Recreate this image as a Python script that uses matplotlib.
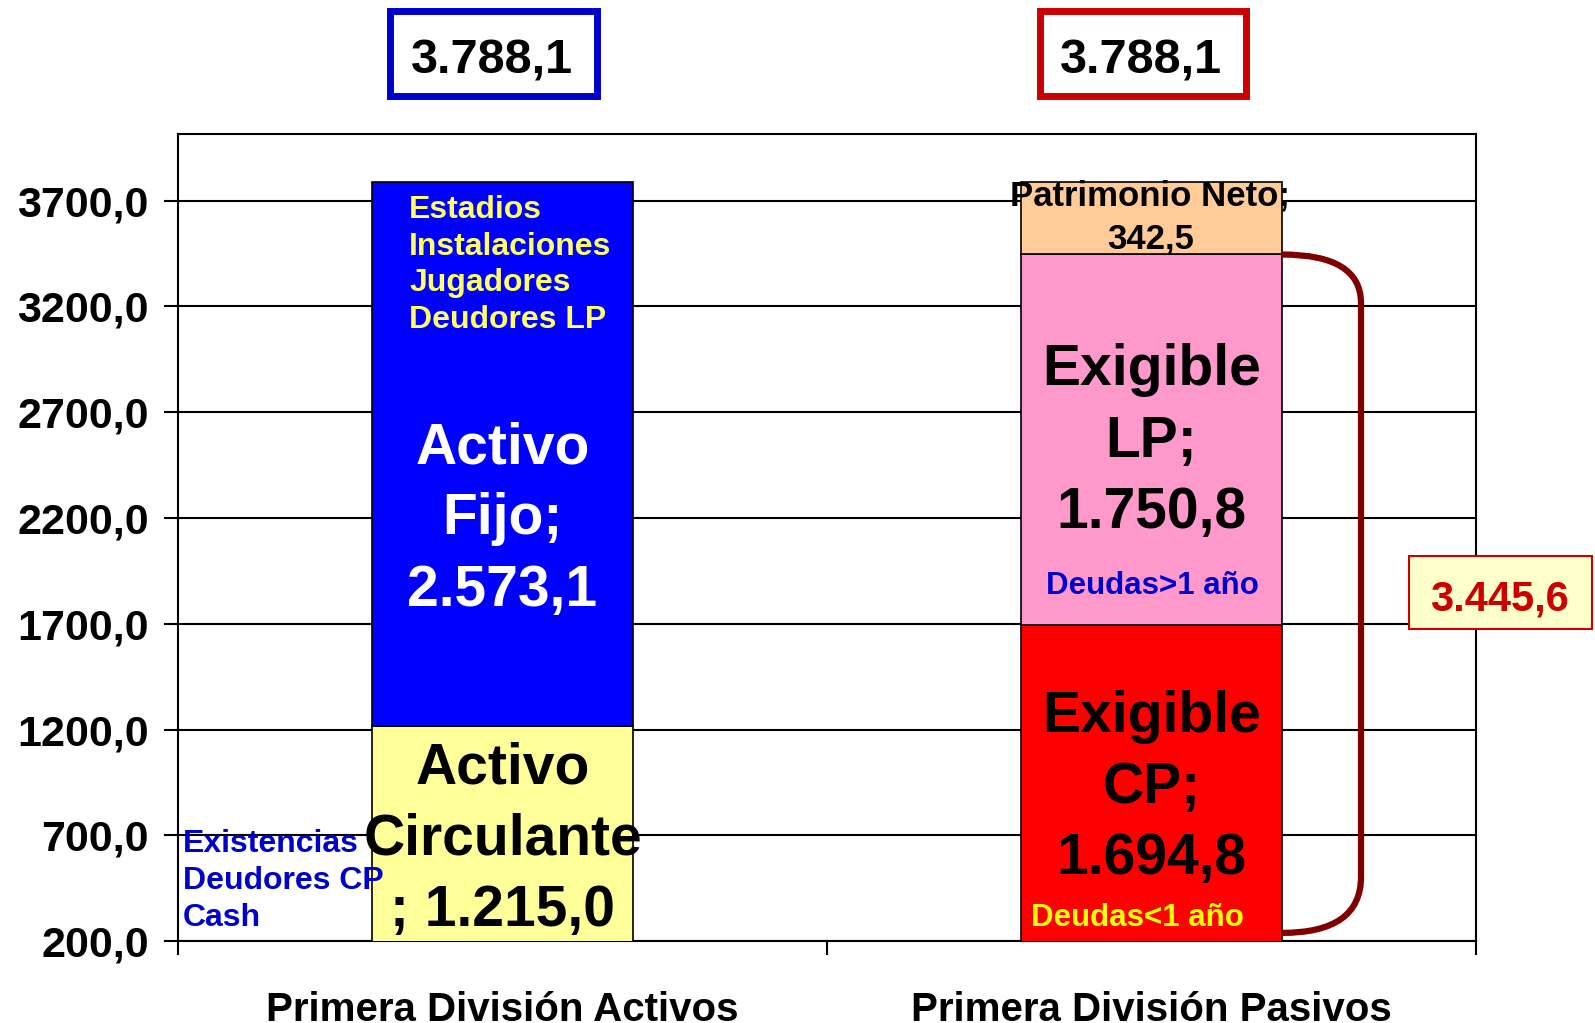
import matplotlib
matplotlib.use("Agg")
import matplotlib.pyplot as plt
from matplotlib.path import Path
from matplotlib.patches import PathPatch, Rectangle

plt.rcParams['font.family'] = ['Liberation Sans', 'DejaVu Sans']
plt.rcParams['font.weight'] = 'bold'

# ---- data ----
categories = ["Primera División Activos", "Primera División Pasivos"]
activo_circulante = [1215.0, 0.0]
activo_fijo = [2573.1, 0.0]
exigible_cp = [0.0, 1694.8]
exigible_lp = [0.0, 1750.8]
patrimonio_neto = [0.0, 342.5]
total_activo = 3788.1
total_pasivo = 3788.1
total_exigible = 3445.6
y_ticks = [200, 700, 1200, 1700, 2200, 2700, 3200, 3700]
y_tick_labels = ["200,0", "700,0", "1200,0", "1700,0", "2200,0", "2700,0", "3200,0", "3700,0"]

fig = plt.figure(figsize=(15.95, 10.23), dpi=100)
ax = fig.add_axes([0.1116, 0.080, 0.8138, 0.789])

x = [0, 1]
w = 0.402
ec = 'black'
lw = 1.2
ax.bar(x[0], activo_circulante[0], w, bottom=0, color='#FFFF99', edgecolor=ec, linewidth=lw, zorder=3)
ax.bar(x[0], activo_fijo[0], w, bottom=activo_circulante[0], color='#0000FF', edgecolor=ec, linewidth=lw, zorder=3)
ax.bar(x[1], exigible_cp[1], w, bottom=0, color='#FF0000', edgecolor=ec, linewidth=lw, zorder=3)
ax.bar(x[1], exigible_lp[1], w, bottom=exigible_cp[1], color='#FF99CC', edgecolor=ec, linewidth=lw, zorder=3)
ax.bar(x[1], patrimonio_neto[1], w, bottom=exigible_cp[1] + exigible_lp[1], color='#FFCC99', edgecolor=ec, linewidth=lw, zorder=3)

ax.set_xlim(-0.5, 1.5)
ax.set_ylim(200, 4015)
ax.set_yticks(y_ticks)
ax.set_yticklabels(y_tick_labels, fontsize=31, fontweight='bold')
ax.yaxis.grid(True, color='black', linewidth=1.5, zorder=0)
ax.set_axisbelow(True)
ax.tick_params(axis='y', direction='out', length=10, width=1.5, pad=11)

ax.set_xticks(x)
ax.set_xticklabels(categories, fontsize=29, fontweight='bold')
ax.set_xticks([-0.5, 0.5, 1.5], minor=True)
ax.tick_params(axis='x', which='major', length=0, pad=36)
ax.tick_params(axis='x', which='minor', direction='out', length=10, width=1.5)
for s in ax.spines.values():
    s.set_linewidth(1.5)
    s.set_color('black')

# ---- labels inside bars ----
big = 41
small = 23
bls = 1.41
ax.text(0, 2193, "Activo\nFijo;\n2.573,1", color='white', fontsize=big, fontweight='bold',
        ha='center', va='center', linespacing=bls, zorder=5)
ax.text(-0.144, 3396, "Estadios\nInstalaciones\nJugadores\nDeudores LP", color='#FFFF66',
        fontsize=small, fontweight='bold', ha='left', va='center', linespacing=1.3, zorder=5)
ax.text(0, 679, "Activo\nCirculante\n; 1.215,0", color='black', fontsize=big, fontweight='bold',
        ha='center', va='center', linespacing=bls, zorder=5)
ax.text(-0.492, 485, "Existencias\nDeudores CP\nCash", color='#0000CC', fontsize=small,
        fontweight='bold', ha='left', va='center', linespacing=1.3, zorder=5)
ax.text(0.998, 3620, "Patrimonio Neto;\n342,5", color='black', fontsize=25, fontweight='bold',
        ha='center', va='center', linespacing=1.41, zorder=5)
ax.text(1, 2561, "Exigible\nLP;\n1.750,8", color='black', fontsize=big, fontweight='bold',
        ha='center', va='center', linespacing=bls, zorder=5)
ax.text(1.0016, 1879, "Deudas>1 año", color='#0000CC', fontsize=22.5, fontweight='bold',
        ha='center', va='center', zorder=5)
ax.text(1, 923, "Exigible\nCP;\n1.694,8", color='black', fontsize=big, fontweight='bold',
        ha='center', va='center', linespacing=bls, zorder=5)
ax.text(0.978, 308, "Deudas<1 año", color='#FFFF00', fontsize=22.5, fontweight='bold',
        ha='center', va='center', zorder=5)

# ---- bracket ----
xr = 1 + w / 2
xb = 1.3228
verts = [(xr, total_exigible), (xb, total_exigible), (xb, 3216),
         (xb, 504), (xb, 239), (xr, 239)]
codes = [Path.MOVETO, Path.CURVE3, Path.CURVE3, Path.LINETO, Path.CURVE3, Path.CURVE3]
ax.add_patch(PathPatch(Path(verts, codes), fill=False, edgecolor='#800000', linewidth=4.5,
                       zorder=6, clip_on=False))

# ---- total boxes ----
def box(x0, x1, y0, y1, fc, ecol, lwidth):
    fig.add_artist(Rectangle((x0, y0), x1 - x0, y1 - y0, transform=fig.transFigure,
                             facecolor=fc, edgecolor=ecol, linewidth=lwidth, zorder=1))

box(0.2448, 0.3740, 0.9066, 0.9888, 'white', '#0000CC', 5)
box(0.6520, 0.7810, 0.9066, 0.9888, 'white', '#CC0000', 5)
box(0.8834, 0.9980, 0.3851, 0.4565, '#FFFFCC', '#CC0000', 1.5)
fig.text(0.3083, 0.9284, f"{total_activo:,.1f}".replace(",", "X").replace(".", ",").replace("X", "."),
         fontsize=35, fontweight='bold', color='black', ha='center', va='baseline', zorder=2)
fig.text(0.7156, 0.9284, f"{total_pasivo:,.1f}".replace(",", "X").replace(".", ",").replace("X", "."),
         fontsize=35, fontweight='bold', color='black', ha='center', va='baseline', zorder=2)
fig.text(0.9401, 0.4037, f"{total_exigible:,.1f}".replace(",", "X").replace(".", ",").replace("X", "."),
         fontsize=30, fontweight='bold', color='#CC0000', ha='center', va='baseline', zorder=2)

fig.savefig("out.png", dpi=100)
